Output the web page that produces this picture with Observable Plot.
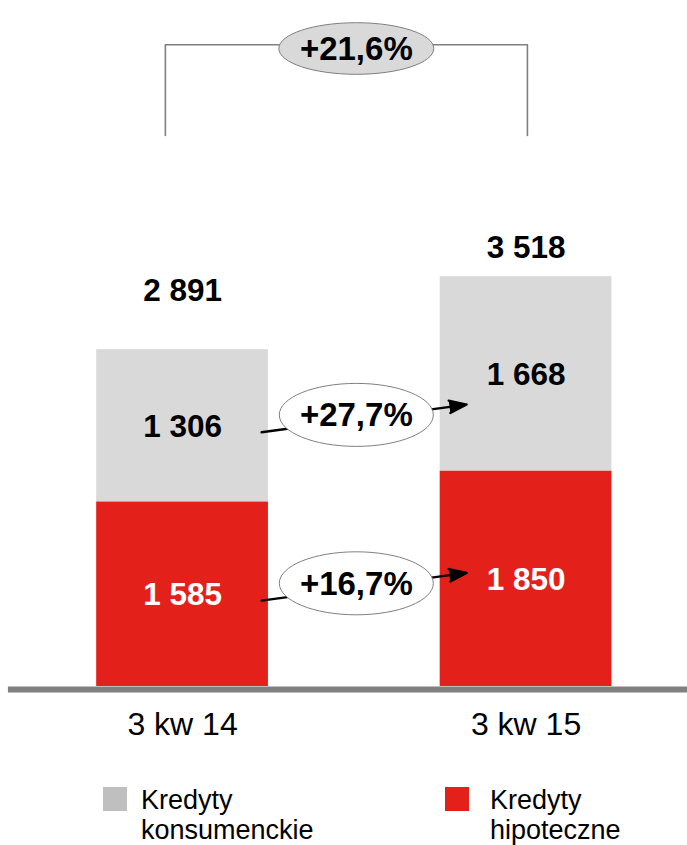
<!DOCTYPE html>
<html>
<head>
<meta charset="utf-8">
<script src="https://cdn.jsdelivr.net/npm/d3@7"></script>
<script src="https://cdn.jsdelivr.net/npm/@observablehq/plot@0.6"></script>
<style>
  html, body { margin: 0; padding: 0; background: #fff; }
  #wrap { position: relative; width: 687px; height: 845px; overflow: hidden;
          font-family: "Liberation Sans", Arial, sans-serif; color: #000; }
  #chart svg { display: block; }
  .leg-sw { position: absolute; width: 24px; height: 24px; top: 787px; }
  .leg-tx { position: absolute; top: 785px; font-size: 27px; line-height: 30px; white-space: nowrap; }
</style>
</head>
<body>
<div id="wrap">
  <div id="chart"></div>
  <div id="legend"></div>
</div>
<script>
// ---- data ----
const categories = ["3 kw 14", "3 kw 15"];
const hipoteczne = [1585, 1850];      // red, bottom
const konsumenckie = [1306, 1668];    // grey, top
const totals = [2891, 3518];
const changeTotal = "+21,6%";
const changeKons = "+27,7%";
const changeHip = "+16,7%";
const seriesNames = ["Kredyty konsumenckie", "Kredyty hipoteczne"];

// ---- styles ----
const RED = "#e4201b", GREY = "#d9d9d9", LEGGREY = "#bfbfbf", LINE = "#7f7f7f";
const FONT = "Liberation Sans, Arial, sans-serif";
const VAL = 31.5, PCT = 33, CAT = 32;

const fmt = d3.formatLocale({decimal: ",", thousands: " ", grouping: [3], currency: ["", ""]}).format(",d");

// stacked segments
const segments = [];
categories.forEach((c, i) => {
  segments.push({i, s: "hip", value: hipoteczne[i], y1: 0, y2: hipoteczne[i]});
  segments.push({i, s: "kons", value: konsumenckie[i], y1: hipoteczne[i], y2: hipoteczne[i] + konsumenckie[i]});
});
const totalRows = categories.map((c, i) => ({i, total: totals[i]}));

// annotation geometry (data units, relative to bars)
const half = 0.25;                       // half bar width in x units
const midKons0 = hipoteczne[0] + konsumenckie[0] / 2;
const midHip0 = hipoteczne[0] / 2;
const rise = 238;
const arrows = [
  {x1: 0.23, y1: midKons0, x2: 0.827, y2: midKons0 + rise},
  {x1: 0.23, y1: midHip0, x2: 0.827, y2: midHip0 + rise}
];
const ovals = [
  {x: 0.5, y: midKons0 + rise / 2, label: changeKons},
  {x: 0.5, y: midHip0 + rise / 2, label: changeHip}
];
const bracketLow = 4729, bracketHigh = 5508, topOvalY = 5476;
const bracket = [
  {x: -0.05, y: bracketLow}, {x: -0.05, y: bracketHigh},
  {x: 1.004, y: bracketHigh}, {x: 1.004, y: bracketLow}
];

function ellipse(rx, ry) {
  const k = 0.5522847;
  return {
    draw(c) {
      c.moveTo(rx, 0);
      c.bezierCurveTo(rx, ry * k, rx * k, ry, 0, ry);
      c.bezierCurveTo(-rx * k, ry, -rx, ry * k, -rx, 0);
      c.bezierCurveTo(-rx, -ry * k, -rx * k, -ry, 0, -ry);
      c.bezierCurveTo(rx * k, -ry, rx, -ry * k, rx, 0);
      c.closePath();
    }
  };
}

const plot = Plot.plot({
  width: 687,
  height: 770,
  marginTop: 0, marginRight: 0, marginBottom: 84, marginLeft: 0,
  x: {domain: [-0.53, 1.47]},
  y: {domain: [0, 5888], axis: null},
  style: {fontFamily: FONT, color: "#000", background: "#fff", overflow: "visible"},
  marks: [
    // bars
    Plot.rect(segments, {x1: d => d.i - half, x2: d => d.i + half, y1: "y1", y2: "y2",
      fill: d => d.s === "hip" ? RED : GREY}),
    // baseline
    Plot.ruleY([0], {x1: -0.507, x2: 1.47, stroke: "#808080", strokeWidth: 6, dy: 3}),
    // category axis
    Plot.axisX([0, 1], {tickFormat: i => categories[i], tickSize: 0, tickPadding: 26,
      fontSize: CAT, fontFamily: FONT, fill: "#000"}),
    // segment labels
    Plot.text(segments.filter(d => d.s === "kons"), {x: "i", y: d => (d.y1 + d.y2) / 2, dy: 1,
      text: d => fmt(d.value), fill: "#000", fontSize: VAL, fontWeight: "bold", fontFamily: FONT}),
    Plot.text(segments.filter(d => d.s === "hip"), {x: "i", y: d => (d.y1 + d.y2) / 2, dy: 1,
      text: d => fmt(d.value), fill: "#fff", fontSize: VAL, fontWeight: "bold", fontFamily: FONT}),
    // totals
    Plot.text(totalRows.filter(d => d.i === 0), {x: "i", y: "total", text: d => fmt(d.total),
      dy: -59, fill: "#000", fontSize: VAL, fontWeight: "bold", fontFamily: FONT}),
    Plot.text(totalRows.filter(d => d.i === 1), {x: "i", y: "total", text: d => fmt(d.total),
      dy: -29, fill: "#000", fontSize: VAL, fontWeight: "bold", fontFamily: FONT}),
    // arrows between segments
    Plot.arrow(arrows, {x1: "x1", y1: "y1", x2: "x2", y2: "y2", dy: 6.5,
      stroke: "#000", fill: "#000", strokeWidth: 2.3, headAngle: 40, headLength: 12}),
    Plot.dot(ovals, {x: "x", y: "y", dx: 2, dy: 3, symbol: ellipse(77, 31.5),
      fill: "#fff", stroke: LINE, strokeWidth: 1}),
    Plot.text(ovals, {x: "x", y: "y", dx: 2, dy: 4, text: "label", fill: "#000",
      fontSize: PCT, fontWeight: "bold", fontFamily: FONT}),
    // top bracket
    Plot.line(bracket, {x: "x", y: "y", stroke: LINE, strokeWidth: 1.6}),
    Plot.dot([{x: 0.5, y: topOvalY}], {x: "x", y: "y", dx: 2, symbol: ellipse(77.5, 25.8),
      fill: GREY, stroke: LINE, strokeWidth: 1}),
    Plot.text([{x: 0.5, y: topOvalY}], {x: "x", y: "y", dx: 2, dy: 1, text: () => changeTotal,
      fill: "#000", fontSize: PCT, fontWeight: "bold", fontFamily: FONT})
  ]
});
document.getElementById("chart").appendChild(plot);

// legend (HTML, below the svg)
const legend = document.getElementById("legend");
const legendItems = [
  {name: seriesNames[0], color: LEGGREY, sx: 103, tx: 141},
  {name: seriesNames[1], color: RED, sx: 445, tx: 490}
];
legendItems.forEach(it => {
  const sw = document.createElement("div");
  sw.className = "leg-sw";
  sw.style.left = it.sx + "px";
  sw.style.background = it.color;
  legend.appendChild(sw);
  const tx = document.createElement("div");
  tx.className = "leg-tx";
  tx.style.left = it.tx + "px";
  const parts = it.name.split(" ");
  tx.innerHTML = parts[0] + "<br>" + parts.slice(1).join(" ");
  legend.appendChild(tx);
});
</script>
</body>
</html>
